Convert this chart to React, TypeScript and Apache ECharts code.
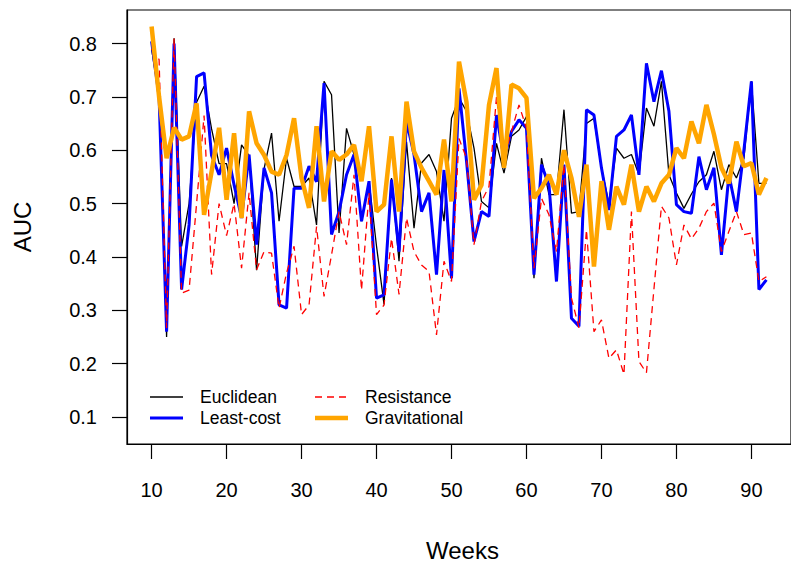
import React, { useEffect, useRef } from "react";
import * as echarts from "echarts";

const weeks = [
  10, 11, 12, 13, 14, 15, 16, 17, 18, 19, 20, 21, 22, 23, 24, 25, 26, 27, 28, 29,
  30, 31, 32, 33, 34, 35, 36, 37, 38, 39, 40, 41, 42, 43, 44, 45, 46, 47, 48, 49,
  50, 51, 52, 53, 54, 55, 56, 57, 58, 59, 60, 61, 62, 63, 64, 65, 66, 67, 68, 69,
  70, 71, 72, 73, 74, 75, 76, 77, 78, 79, 80, 81, 82, 83, 84, 85, 86, 87, 88, 89,
  90, 91, 92,
];

const euclidean = [
  0.79, 0.70, 0.25, 0.81, 0.42, 0.50, 0.69, 0.72, 0.64, 0.575, 0.575, 0.50, 0.61, 0.59, 0.375, 0.565, 0.632, 0.467, 0.585, 0.532,
  0.532, 0.548, 0.46, 0.729, 0.704, 0.445, 0.641, 0.592, 0.467, 0.542, 0.42, 0.311, 0.548, 0.392, 0.616, 0.454, 0.576, 0.592, 0.56, 0.467,
  0.66, 0.698, 0.673, 0.604, 0.504, 0.492, 0.613, 0.557, 0.626, 0.638, 0.663, 0.36, 0.585, 0.517, 0.517, 0.676, 0.482, 0.485, 0.65, 0.66,
  0.567, 0.50, 0.604, 0.585, 0.592, 0.554, 0.679, 0.645, 0.729, 0.554, 0.52, 0.491, 0.518, 0.541, 0.554, 0.598, 0.526, 0.573, 0.548, 0.585,
  0.729, 0.538, 0.538,
];

const leastCost = [
  0.804, 0.70, 0.26, 0.80, 0.339, 0.46, 0.738, 0.745, 0.59, 0.554, 0.604, 0.535, 0.473, 0.592, 0.423, 0.567, 0.52, 0.31, 0.304, 0.529,
  0.529, 0.57, 0.541, 0.726, 0.442, 0.485, 0.554, 0.592, 0.467, 0.542, 0.323, 0.329, 0.545, 0.41, 0.654, 0.592, 0.485, 0.52, 0.367, 0.563,
  0.36, 0.716, 0.58, 0.429, 0.485, 0.476, 0.666, 0.585, 0.635, 0.657, 0.641, 0.367, 0.573, 0.535, 0.354, 0.573, 0.285, 0.27, 0.676, 0.666,
  0.567, 0.488, 0.626, 0.638, 0.666, 0.554, 0.763, 0.691, 0.749, 0.673, 0.498, 0.485, 0.482, 0.588, 0.526, 0.567, 0.404, 0.554, 0.485, 0.60,
  0.729, 0.339, 0.357,
];

const resistance = [
  0.79, 0.77, 0.267, 0.81, 0.332, 0.338, 0.50, 0.665, 0.367, 0.50, 0.44, 0.50, 0.379, 0.52, 0.376, 0.41, 0.407, 0.304, 0.37, 0.42,
  0.292, 0.31, 0.457, 0.326, 0.404, 0.485, 0.423, 0.554, 0.338, 0.52, 0.292, 0.31, 0.435, 0.33, 0.473, 0.41, 0.385, 0.373, 0.254, 0.392,
  0.354, 0.622, 0.585, 0.423, 0.504, 0.532, 0.70, 0.585, 0.635, 0.685, 0.641, 0.379, 0.51, 0.479, 0.41, 0.573, 0.323, 0.267, 0.451, 0.26,
  0.282, 0.21, 0.226, 0.18, 0.485, 0.204, 0.183, 0.34, 0.495, 0.473, 0.385, 0.46, 0.434, 0.454, 0.485, 0.501, 0.41, 0.448, 0.485, 0.442,
  0.445, 0.354, 0.363,
];

const gravitational = [
  0.832, 0.70, 0.585, 0.642, 0.62, 0.626, 0.688, 0.479, 0.56, 0.642, 0.507, 0.632, 0.473, 0.673, 0.613, 0.591, 0.56, 0.554, 0.591, 0.66,
  0.548, 0.492, 0.645, 0.504, 0.598, 0.582, 0.592, 0.61, 0.542, 0.645, 0.485, 0.498, 0.626, 0.485, 0.691, 0.598, 0.567, 0.542, 0.517, 0.62,
  0.504, 0.766, 0.69, 0.507, 0.535, 0.685, 0.754, 0.567, 0.723, 0.716, 0.698, 0.51, 0.529, 0.554, 0.517, 0.60, 0.548, 0.475, 0.573, 0.382,
  0.542, 0.451, 0.532, 0.498, 0.573, 0.485, 0.532, 0.504, 0.538, 0.554, 0.604, 0.585, 0.654, 0.613, 0.685, 0.63, 0.567, 0.538, 0.616, 0.57,
  0.576, 0.517, 0.548,
];

const xTicks = [10, 20, 30, 40, 50, 60, 70, 80, 90];
const yTicks = [0.1, 0.2, 0.3, 0.4, 0.5, 0.6, 0.7, 0.8];

const seriesNames = ["Euclidean", "Least-cost", "Resistance", "Gravitational"];

const FONT = "'Liberation Sans', Arial, Helvetica, sans-serif";

export default function App() {
  const ref = useRef<HTMLDivElement>(null);

  useEffect(() => {
    if (!ref.current) return;
    const chart = echarts.init(ref.current, null, { renderer: "svg" });
    const pair = (vals: number[]) => weeks.map((w, i) => [w, vals[i]]);

    const gridLeft = 127;
    const gridTop = 10;
    const gridW = 671;
    const gridH = 434;

    const legendItems = [
      { name: seriesNames[0], x: 150, y: 397, color: "#000000", width: 1.3, dash: null as any },
      { name: seriesNames[1], x: 150, y: 418, color: "#0000ff", width: 3, dash: null as any },
      { name: seriesNames[2], x: 315, y: 397, color: "#ff0000", width: 1.3, dash: [7, 5] },
      { name: seriesNames[3], x: 315, y: 418, color: "#ffa500", width: 4.5, dash: null as any },
    ];

    const graphics: any[] = [];
    legendItems.forEach((it) => {
      graphics.push({
        type: "line",
        shape: { x1: it.x, y1: it.y, x2: it.x + 33, y2: it.y },
        style: { stroke: it.color, lineWidth: it.width, lineDash: it.dash || undefined },
        z: 100,
      });
      graphics.push({
        type: "text",
        x: it.x + 50,
        y: it.y,
        style: {
          text: it.name,
          fill: "#000",
          font: `17.5px ${FONT}`,
          textAlign: "left",
          textVerticalAlign: "middle",
        },
        z: 100,
      });
    });
    graphics.push({
      type: "text",
      x: gridLeft + gridW / 2,
      y: 550,
      style: {
        text: "Weeks",
        fill: "#000",
        font: `24px ${FONT}`,
        textAlign: "center",
        textVerticalAlign: "middle",
      },
    });
    graphics.push({
      type: "text",
      x: 22,
      y: gridTop + gridH / 2,
      rotation: Math.PI / 2,
      style: {
        text: "AUC",
        fill: "#000",
        font: `24px ${FONT}`,
        textAlign: "center",
        textVerticalAlign: "middle",
      },
    });

    chart.setOption({
      animation: false,
      backgroundColor: "#ffffff",
      grid: {
        left: gridLeft,
        top: gridTop,
        width: gridW,
        height: gridH,
        show: true,
        borderColor: "#000",
        borderWidth: 1.2,
        backgroundColor: "transparent",
      },
      xAxis: {
        type: "value",
        min: 6.72,
        max: 95.28,
        axisLine: { show: true, onZero: false, lineStyle: { color: "#000", width: 1.2 } },
        axisTick: {
          show: true,
          length: 15,
          inside: false,
          customValues: xTicks,
          lineStyle: { color: "#000", width: 1.2 },
        },
        axisLabel: {
          customValues: xTicks,
          fontSize: 20,
          fontFamily: FONT,
          color: "#000",
          margin: 36,
          formatter: (v: number) => String(v),
        },
        splitLine: { show: false },
      },
      yAxis: {
        type: "value",
        min: 0.0495,
        max: 0.8628,
        axisLine: { show: true, onZero: false, lineStyle: { color: "#000", width: 1.2 } },
        axisTick: {
          show: true,
          length: 15,
          inside: false,
          customValues: yTicks,
          lineStyle: { color: "#000", width: 1.2 },
        },
        axisLabel: {
          customValues: yTicks,
          fontSize: 20,
          fontFamily: FONT,
          color: "#000",
          margin: 30,
          formatter: (v: number) => v.toFixed(1),
        },
        splitLine: { show: false },
      },
      series: [
        {
          name: seriesNames[0],
          type: "line",
          data: pair(euclidean),
          showSymbol: false,
          symbol: "none",
          lineStyle: { color: "#000000", width: 1.3 },
          z: 2,
        },
        {
          name: seriesNames[1],
          type: "line",
          data: pair(leastCost),
          showSymbol: false,
          symbol: "none",
          lineStyle: { color: "#0000ff", width: 3 },
          z: 3,
        },
        {
          name: seriesNames[2],
          type: "line",
          data: pair(resistance),
          showSymbol: false,
          symbol: "none",
          lineStyle: { color: "#ff0000", width: 1.3, type: [7, 5] },
          z: 4,
        },
        {
          name: seriesNames[3],
          type: "line",
          data: pair(gravitational),
          showSymbol: false,
          symbol: "none",
          lineStyle: { color: "#ffa500", width: 4.5 },
          z: 5,
        },
      ],
      graphic: graphics,
    });

    return () => {
      chart.dispose();
    };
  }, []);

  return (
    <div
      ref={ref}
      style={{
        position: "fixed",
        left: 0,
        top: 0,
        width: 791,
        height: 565,
        background: "#fff",
      }}
    />
  );
}
